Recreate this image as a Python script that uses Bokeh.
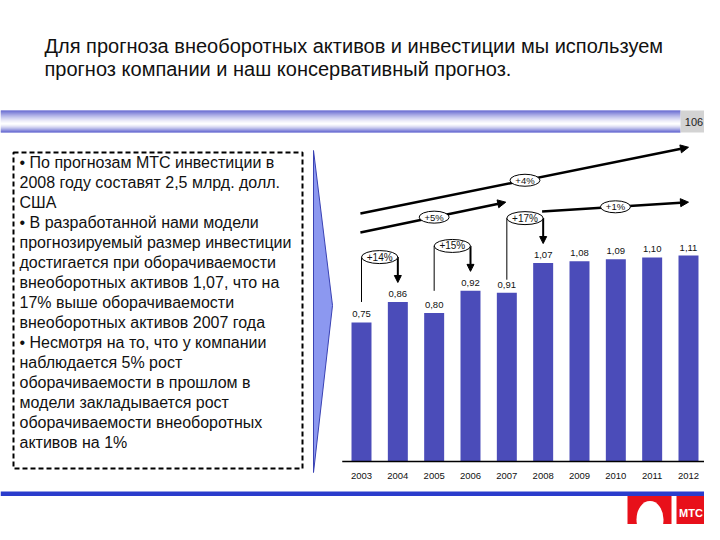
from bokeh.plotting import figure
from bokeh.models import Range1d, ColumnDataSource, Arrow, NormalHead
from bokeh.embed import file_html
from bokeh.resources import INLINE
from bokeh.core.properties import value

# ---------------- data ----------------
years = ["2003", "2004", "2005", "2006", "2007", "2008", "2009", "2010", "2011", "2012"]
turnover = [0.75, 0.86, 0.80, 0.92, 0.91, 1.07, 1.08, 1.09, 1.10, 1.11]
turnover_labels = ["0,75", "0,86", "0,80", "0,92", "0,91", "1,07", "1,08", "1,09", "1,10", "1,11"]

step_from = [0, 2, 4]
step_to = [1, 3, 5]
step_labels = ["+14%", "+15%", "+17%"]

trend_from = [0, 0, 5]
trend_to = [4, 9, 9]
trend_labels = ["+5%", "+4%", "+1%"]

title_lines = [
    "Для прогноза внеоборотных активов и инвестиции мы используем",
    "прогноз компании и наш консервативный прогноз.",
]
page_number = "106"
bullet_lines = [
    "• По прогнозам МТС инвестиции в",
    "2008 году составят 2,5 млрд. долл.",
    "США",
    "• В разработанной нами модели",
    "прогнозируемый размер инвестиции",
    "достигается при оборачиваемости",
    "внеоборотных активов 1,07, что на",
    "17% выше оборачиваемости",
    "внеоборотных активов 2007 года",
    "• Несмотря на то, что у компании",
    "наблюдается 5% рост",
    "оборачиваемости в прошлом в",
    "модели закладывается рост",
    "оборачиваемости внеоборотных",
    "активов на 1%",
]
logo_text = "МТС"

# ---------------- layout / style ----------------
FONT = value("Liberation Sans")
W, H = 704, 524
BAR_COLOR = "#4b4cb9"
# trend line vertical positions (value units): start, end, label position along x
trend_y = {"+5%": (1.234, 1.398), "+4%": (1.337, 1.694), "+1%": (1.348, 1.398)}
trend_mid = {"+5%": 2.0, "+4%": 4.5, "+1%": 6.99}
step_left_gap = [0.11, 0.12, 0.07]

p = figure(width=W, height=H, output_backend="svg", toolbar_location=None,
           x_range=Range1d(0, W), y_range=Range1d(H, 0),
           x_axis_location=None, y_axis_location=None, min_border=0)
p.grid.visible = False
p.outline_line_color = None
p.background_fill_color = "white"
p.border_fill_color = "white"

# data ranges: index spacing 36.33px, bar 2003 centered at x=361; value 0 at y=461, 185.5 px/unit
ux = 36.333
xs0 = -361 / ux
p.extra_x_ranges = {"d": Range1d(xs0, xs0 + W / ux)}
uy = 185.5
ye = 461 / uy
p.extra_y_ranges = {"d": Range1d(ye - H / uy, ye)}

# ---------------- title ----------------
p.text(x=[44, 44], y=[45.5, 68.5], text=title_lines, text_font=FONT, text_font_size="20px",
       text_color="#111111", text_baseline="middle", text_align="left")

# ---------------- header band ----------------
top, bot = 110, 132
n = bot - top
c = 13
blue = (58, 62, 196)
lefts, rights, tops_, bots_, cols = [], [], [], [], []
for k in range(n):
    if k < c:
        f = (c - k) / c
    else:
        f = (k - c) / (n - 1 - c)
    f = min(1.0, f) ** 1.4
    col = tuple(int(255 * (1 - f) + b * f) for b in blue)
    lefts.append(0); rights.append(680); tops_.append(top + k); bots_.append(top + k + 1)
    cols.append("#%02x%02x%02x" % col)
p.quad(left=lefts, right=rights, top=tops_, bottom=bots_, fill_color=cols, line_color=None)
p.quad(left=[680], right=[720], top=[top], bottom=[bot], fill_color="#d3d3d3", line_color=None)
p.text(x=[693.5], y=[121.5], text=[page_number], text_font=FONT, text_font_size="11px",
       text_color="#222222", text_align="center", text_baseline="middle")

# ---------------- dashed text box ----------------
p.quad(left=[13], right=[302], top=[152], bottom=[468], fill_color=None,
       line_color="black", line_width=2, line_dash="5 3")
ly = [161.7 + 20.0 * i for i in range(len(bullet_lines))]
p.text(x=[19] * len(bullet_lines), y=ly, text=bullet_lines, text_font=FONT,
       text_font_size="16px", text_color="#111111", text_baseline="middle")

# ---------------- chevron ----------------
p.patch(x=[313, 332, 313], y=[150, 305, 472], fill_color="#8c98f0", line_color="#3a42b4",
        line_width=1)

# ---------------- bars ----------------
idx = list(range(len(years)))
src = ColumnDataSource(dict(x=idx, top=turnover, lab=turnover_labels, yr=years))
p.vbar(x="x", top="top", bottom=0, width=0.55, source=src, fill_color=BAR_COLOR,
       line_color=None, x_range_name="d", y_range_name="d")
p.segment(x0=[-0.53], x1=[9.52], y0=[0], y1=[0], line_color="black", line_width=1.5,
          x_range_name="d", y_range_name="d")
p.text(x="x", y="top", text="lab", source=src, text_font=FONT, text_font_size="9.5px",
       text_color="#111111", text_align="center", text_baseline="middle", y_offset=-8,
       x_range_name="d", y_range_name="d")
p.text(x="x", y=0, text="yr", source=src, text_font=FONT, text_font_size="9.5px",
       text_color="#111111", text_align="center", text_baseline="middle", y_offset=14,
       x_range_name="d", y_range_name="d")

# ---------------- step brackets ----------------
ex, ey, lx0, ly0, ly1, ax, ay0, ay1 = [], [], [], [], [], [], [], []
for a, b, g in zip(step_from, step_to, step_left_gap):
    e_y = max(turnover[a], turnover[b]) + 0.242
    ex.append((a + b) / 2); ey.append(e_y)
    lx0.append(a); ly0.append(turnover[a] + g); ly1.append(e_y)
    ax.append(b); ay0.append(e_y); ay1.append(turnover[b] + 0.105)
p.segment(x0=lx0, x1=lx0, y0=ly0, y1=ly1, line_color="black", line_width=1,
          x_range_name="d", y_range_name="d")
asrc = ColumnDataSource(dict(x0=ax, y0=ay0, x1=ax, y1=ay1))
p.add_layout(Arrow(x_start="x0", y_start="y0", x_end="x1", y_end="y1", source=asrc,
                   line_width=2, line_color="black", level="underlay",
                   end=NormalHead(size=7, fill_color="black", line_color="black"),
                   x_range_name="d", y_range_name="d"))
p.ellipse(x=ex, y=ey, width=1.0, height=13, height_units="screen", fill_color="white",
          line_color="black", line_width=1, x_range_name="d", y_range_name="d")
p.text(x=ex, y=ey, text=step_labels, text_font=FONT, text_font_size="10px",
       text_color="#111111", text_align="center", text_baseline="middle",
       x_range_name="d", y_range_name="d")

# ---------------- trend arrows ----------------
tx0, ty0, tx1, ty1, mx, my = [], [], [], [], [], []
for a, b, lab in zip(trend_from, trend_to, trend_labels):
    y0, y1 = trend_y[lab]
    xa = a - 0.03
    xb = b - 0.03 if b < 9 else b
    tx0.append(xa); tx1.append(xb); ty0.append(y0); ty1.append(y1)
    xm = trend_mid[lab]
    mx.append(xm)
    my.append(y0 + (y1 - y0) * (xm - xa) / (xb - xa))
tsrc = ColumnDataSource(dict(x0=tx0, y0=ty0, x1=tx1, y1=ty1))
p.add_layout(Arrow(x_start="x0", y_start="y0", x_end="x1", y_end="y1", source=tsrc,
                   line_width=2.5, line_color="black", level="underlay",
                   end=NormalHead(size=8, fill_color="black", line_color="black"),
                   x_range_name="d", y_range_name="d"))
p.ellipse(x=mx, y=my, width=30, height=12, width_units="screen", height_units="screen",
          fill_color="white", line_color="black", line_width=1,
          x_range_name="d", y_range_name="d")
p.text(x=mx, y=my, text=trend_labels, text_font=FONT, text_font_size="9.5px",
       text_color="#111111", text_align="center", text_baseline="middle",
       x_range_name="d", y_range_name="d")

# ---------------- footer ----------------
p.quad(left=[0], right=[720], top=[491], bottom=[495.5], fill_color="#2a3ccc", line_color=None)
p.quad(left=[627], right=[720], top=[495.5], bottom=[540], fill_color="#e8101a", line_color=None)
p.quad(left=[671], right=[676], top=[495.5], bottom=[540], fill_color="white", line_color=None)
p.ellipse(x=[649.5], y=[519], width=27, height=37, fill_color="white", line_color=None)
p.text(x=[678.5], y=[512.5], text=[logo_text], text_font=FONT,
       text_font_size="11px", text_font_style="bold", text_color="white",
       text_align="left", text_baseline="middle")

open("out.html", "w").write(file_html(p, INLINE))
